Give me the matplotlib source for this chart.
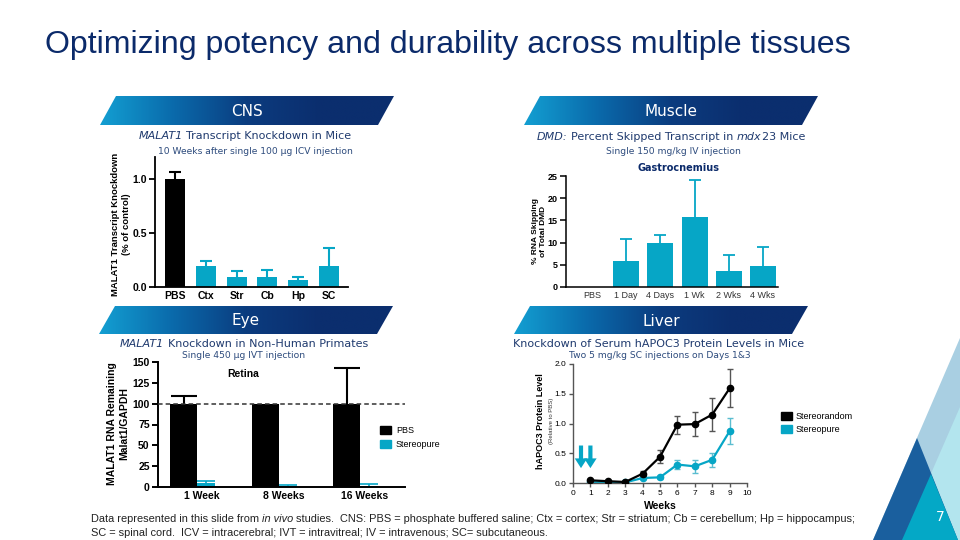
import numpy as np
import matplotlib
matplotlib.use('Agg')
import matplotlib.pyplot as plt
from matplotlib.patches import Polygon, Patch
from matplotlib.colors import LinearSegmentedColormap

plt.rcParams['font.family'] = ['DejaVu Sans']
ARIAL = ['Liberation Sans', 'DejaVu Sans']
NARROW = ['Liberation Sans Narrow', 'Liberation Sans', 'DejaVu Sans']

NAVY = '#0b2a6a'
TITLE_BLUE = '#1f3a6e'
SUB_BLUE = '#2c4a7c'
CYAN = '#06a6c6'

# ---- CNS ----
cns_labels = ['PBS', 'Ctx', 'Str', 'Cb', 'Hp', 'SC']
cns_vals = [1.0, 0.19, 0.095, 0.095, 0.062, 0.19]
cns_err = [0.06, 0.047, 0.055, 0.06, 0.033, 0.17]

# ---- Muscle ----
dmd_labels = ['PBS', '1 Day', '4 Days', '1 Wk', '2 Wks', '4 Wks']
dmd_vals = [0, 5.75, 9.85, 15.8, 3.65, 4.7]
dmd_err = [0, 5.0, 1.85, 8.2, 3.45, 4.25]

# ---- Eye ----
eye_groups = ['1 Week', '8 Weeks', '16 Weeks']
eye_pbs = [100, 100, 100]
eye_pbs_err = [9.5, 0, 42.5]
eye_stereo = [4.8, 1.6, 1.6]
eye_stereo_err = [2.0, 1.2, 2.4]

# ---- Liver ----
weeks = [1, 2, 3, 4, 5, 6, 7, 8, 9]
rand_vals = [0.045, 0.03, 0.017, 0.157, 0.44, 0.98, 0.99, 1.15, 1.59]
rand_err = [0.01, 0.01, 0.01, 0.045, 0.11, 0.15, 0.2, 0.28, 0.32]
pure_vals = [0.01, 0.01, 0.01, 0.084, 0.095, 0.31, 0.28, 0.39, 0.87]
pure_err = [0, 0, 0, 0.02, 0.02, 0.07, 0.11, 0.12, 0.22]
dose_weeks = [0.46, 1.0]

W, H = 960, 540
fig = plt.figure(figsize=(W / 100, H / 100), dpi=100)
bg = fig.add_axes([0, 0, 1, 1], zorder=0)
bg.set_xlim(0, W)
bg.set_ylim(H, 0)
bg.set_autoscale_on(False)
bg.axis('off')
renderer = fig.canvas.get_renderer()


def px_axes(left, top, right, bottom):
    ax = fig.add_axes([left / W, 1 - bottom / H, (right - left) / W, (bottom - top) / H], zorder=2)
    ax.set_facecolor('none')
    ax.spines['top'].set_visible(False)
    ax.spines['right'].set_visible(False)
    return ax


def prism(ax, fs, bold_x=True, bold_y=True, lw=1.3, col='black'):
    for s in ['left', 'bottom']:
        ax.spines[s].set_linewidth(lw)
        ax.spines[s].set_color(col)
    ax.tick_params(axis='y', length=4, width=lw, color=col, pad=2)
    ax.tick_params(axis='x', length=0, pad=3)
    for lab in ax.get_xticklabels():
        lab.set_family(ARIAL)
        lab.set_fontsize(fs)
        lab.set_fontweight('bold' if bold_x else 'normal')
    for lab in ax.get_yticklabels():
        lab.set_family(ARIAL)
        lab.set_fontsize(fs)
        lab.set_fontweight('bold' if bold_y else 'normal')


def up_err(ax, x, v, e, color, cap, lw):
    # one-sided (upper) error bar, like Prism draws on bar charts
    eb = ax.errorbar(x, v, yerr=[[0], [e]], color=color, capsize=cap, elinewidth=lw, capthick=lw, zorder=1)
    eb[1][0].set_visible(False)


def text_width(s, **kw):
    t = bg.text(0, 0, '|' + s + '|', **kw)
    t2 = bg.text(0, 0, '||', **kw)
    w = t.get_window_extent(renderer).width - t2.get_window_extent(renderer).width
    t.remove()
    t2.remove()
    return w


def rich_text(x, y, parts, ha='center', **kw):
    widths = [text_width(s, style=st, **kw) for s, st in parts]
    x0 = x - sum(widths) / 2 if ha == 'center' else x
    for (s, st), w in zip(parts, widths):
        body = s.lstrip(' ')
        lead = s[:len(s) - len(body)]
        off = text_width(lead, style=st, **kw) if lead else 0
        bg.text(x0 + off, y, body, style=st, ha='left', va='center', **kw)
        x0 += w


# ---- title ----
title = 'Optimizing potency and durability across multiple tissues'
tw = text_width(title, family=NARROW, fontsize=24)
bg.text(45, 45, title, family=NARROW, fontsize=24 * 805 / tw, color=NAVY, ha='left', va='center')

# ---- banners ----
banner_cmap = LinearSegmentedColormap.from_list(
    'ban', ['#139fd2', '#0a6aab', '#0b3c7f', '#0b2e6e', '#0b2e6e'])


def banner(xb, yt, yb, label, w=294, slant=16):
    pts = [(xb, yb), (xb + slant, yt), (xb + w, yt), (xb + w - slant, yb)]
    poly = Polygon(pts, closed=True, facecolor='none', edgecolor='none', transform=bg.transData)
    bg.add_patch(poly)
    im = bg.imshow(np.linspace(0, 1, 256)[None, :], extent=(xb, xb + w, yb, yt),
                   cmap=banner_cmap, aspect='auto', interpolation='bilinear', zorder=1)
    im.set_clip_path(poly)
    bg.text(xb + w / 2, (yt + yb) / 2 + 1, label, color='white', ha='center', va='center', fontsize=11)


banner(100, 96, 125, 'CNS')
banner(524, 96, 125, 'Muscle')
banner(99, 306, 334, 'Eye')
banner(514, 306, 334, 'Liver')

# ---- decorative triangles ----
bg.add_patch(Polygon([(960, 338), (873, 540), (960, 540)], color='#a9cfe2', lw=0))
bg.add_patch(Polygon([(960, 407), (902, 540), (960, 540)], color='#b3e5ee', lw=0))
bg.add_patch(Polygon([(917, 438), (873, 540), (958, 540)], color='#1a5f9e', lw=0))
bg.add_patch(Polygon([(931, 474), (902, 540), (958, 540)], color='#04a8c6', lw=0))
bg.text(940, 517, '7', color='white', fontsize=10, ha='center', va='center')

# ---- CNS chart ----
rich_text(245, 136, [('MALAT1', 'italic'), (' Transcript Knockdown in Mice', 'normal')],
          fontsize=8, color=TITLE_BLUE)
bg.text(255, 151, '10 Weeks after single 100 µg ICV injection', fontsize=6.6, color=SUB_BLUE,
        ha='center', va='center')
ax1 = px_axes(155, 157, 348, 287)
xc = np.arange(len(cns_labels))
cns_colors = ['black'] + [CYAN] * (len(cns_labels) - 1)
ax1.bar(xc, cns_vals, width=0.65, color=cns_colors, zorder=2)
for xi, v, e, c in zip(xc, cns_vals, cns_err, cns_colors):
    up_err(ax1, xi, v, e, c, 4.5, 1.5)
ax1.set_xlim(-0.65, 5.62)
ax1.set_ylim(0, 1.2)
ax1.set_yticks([0, 0.5, 1.0])
ax1.set_yticklabels(['0.0', '0.5', '1.0'])
ax1.set_xticks(xc)
ax1.set_xticklabels(cns_labels)
prism(ax1, 7.5)
ax1.set_ylabel('MALAT1 Transcript Knockdown\n(% of control)', family=ARIAL, fontweight='bold',
               fontsize=6.8, linespacing=1.3)
ax1.yaxis.set_label_coords(131, 224, transform=bg.transData)

# ---- Muscle chart ----
rich_text(671, 137, [('DMD:', 'italic'), (' Percent Skipped Transcript in ', 'normal'),
                     ('mdx', 'italic'), ('23 Mice', 'normal')], fontsize=8, color=TITLE_BLUE)
bg.text(673, 151, 'Single 150 mg/kg IV injection', fontsize=6.6, color=SUB_BLUE, ha='center', va='center')
bg.text(679, 168, 'Gastrocnemius', fontsize=7, fontweight='bold', color=NAVY, ha='center', va='center')
ax2 = px_axes(566, 176, 778, 287)
xd = np.arange(len(dmd_labels))
ax2.bar(xd, dmd_vals, width=0.76, color=CYAN, zorder=2)
for xi, v, e in zip(xd, dmd_vals, dmd_err):
    if e > 0:
        up_err(ax2, xi, v, e, CYAN, 4, 1.3)
ax2.set_xlim(-0.76, 5.44)
ax2.set_ylim(0, 25)
ax2.set_yticks(range(0, 26, 5))
ax2.set_xticks(xd)
ax2.set_xticklabels(dmd_labels)
prism(ax2, 6.5, bold_x=False, lw=1.1)
for lab in ax2.get_xticklabels():
    lab.set_family(NARROW)
    lab.set_color('#333333')
ax2.set_ylabel('% RNA Skipping\nof Total DMD', family=ARIAL, fontweight='bold', fontsize=6,
               linespacing=1.2)
ax2.yaxis.set_label_coords(547, 231, transform=bg.transData)

# ---- Eye chart ----
rich_text(244, 344, [('MALAT1', 'italic'), (' Knockdown in Non-Human Primates', 'normal')],
          fontsize=8, color=TITLE_BLUE)
bg.text(244, 356, 'Single 450 µg IVT injection', fontsize=6.6, color=SUB_BLUE, ha='center', va='center')
ax3 = px_axes(158, 362, 405, 487)
xg = np.arange(len(eye_groups))
ax3.bar(xg - 0.165, eye_pbs, width=0.33, color='black', zorder=2)
ax3.bar(xg + 0.11, eye_stereo, width=0.22, color=CYAN, zorder=2)
for xi, v, e in zip(xg, eye_pbs, eye_pbs_err):
    if e > 0:
        up_err(ax3, xi - 0.165, v, e, 'black', 9.5, 1.5)
for xi, v, e in zip(xg, eye_stereo, eye_stereo_err):
    up_err(ax3, xi + 0.11, v, e, CYAN, 6.5, 1.2)
ax3.axhline(100, color='#333333', lw=1.1, ls=(0, (3, 2)), zorder=3)
ax3.set_xlim(-0.48, 2.55)
ax3.set_ylim(0, 150)
ax3.set_yticks(range(0, 151, 25))
ax3.set_xticks(xg + 0.06)
ax3.set_xticklabels(eye_groups)
prism(ax3, 7.5, lw=1.4)
bg.text(243, 374, 'Retina', fontsize=7.5, fontweight='bold', family=ARIAL, ha='center', va='center')
ax3.set_ylabel('MALAT1 RNA Remaining\nMalat1/GAPDH', family=NARROW, fontweight='bold', fontsize=7.5,
               linespacing=1.3)
ax3.yaxis.set_label_coords(129, 424, transform=bg.transData)
ax3.legend(handles=[Patch(color='black', label='PBS'), Patch(color=CYAN, label='Stereopure')],
           loc='upper left', bbox_to_anchor=(375, 421), bbox_transform=bg.transData, frameon=False,
           handlelength=1.3, handleheight=1.0, handletextpad=0.5, labelspacing=0.6,
           borderpad=0, prop={'family': ARIAL, 'size': 6.5})

# ---- Liver chart ----
bg.text(659, 344, 'Knockdown of Serum hAPOC3 Protein Levels in Mice', fontsize=8, color=TITLE_BLUE,
        ha='center', va='center')
bg.text(660, 356, 'Two 5 mg/kg SC injections on Days 1&3', fontsize=6.6, color=SUB_BLUE,
        ha='center', va='center')
ax4 = px_axes(573, 364, 747, 483)
ax4.errorbar(weeks, pure_vals, yerr=pure_err, fmt='-o', color=CYAN, ecolor='#5bbdd0', ms=4.5, lw=1.6,
             capsize=2.5, elinewidth=1, capthick=1, zorder=2)
ax4.errorbar(weeks, rand_vals, yerr=rand_err, fmt='-o', color='black', ecolor='#555555', ms=4.5, lw=1.6,
             capsize=2.5, elinewidth=1, capthick=1, zorder=3)
for d in dose_weeks:
    ax4.annotate('', xy=(d, 0.25), xytext=(d, 0.63),
                 arrowprops=dict(color=CYAN, width=3, headwidth=9, headlength=7, lw=0))
ax4.set_xlim(0, 10)
ax4.set_ylim(0, 2.0)
ax4.set_xticks(range(0, 11))
ax4.set_yticks([0, 0.5, 1.0, 1.5, 2.0])
ax4.set_yticklabels(['0.0', '0.5', '1.0', '1.5', '2.0'])
prism(ax4, 6, bold_x=False, bold_y=False, lw=1.0, col='#555555')
ax4.tick_params(axis='x', length=3, width=1.0, color='#555555', pad=2)
ax4.tick_params(axis='y', length=3)
ax4.set_xlabel('Weeks', family=ARIAL, fontweight='bold', fontsize=7.5, labelpad=3)
ax4.set_ylabel('hAPOC3 Protein Level', family=ARIAL, fontweight='bold', fontsize=6.5)
ax4.yaxis.set_label_coords(545, 421, transform=bg.transData)
bg.text(552, 421, '(Relative to PBS)', family=ARIAL, fontsize=4.3, rotation=90, color='#333333',
        ha='center', va='center')
ax4.legend(handles=[Patch(color='black', label='Stereorandom'), Patch(color=CYAN, label='Stereopure')],
           loc='upper left', bbox_to_anchor=(776, 407), bbox_transform=bg.transData, frameon=False,
           handlelength=1.3, handleheight=1.0, handletextpad=0.4, labelspacing=0.5,
           borderpad=0, prop={'family': ARIAL, 'size': 6.5})

# ---- footer ----
foot = dict(family=NARROW, fontsize=7.9, color='#222222')
rich_text(91, 519, [('Data represented in this slide from ', 'normal'), ('in vivo', 'italic'),
                    (' studies.  CNS: PBS = phosphate buffered saline; Ctx = cortex; Str = striatum; '
                     'Cb = cerebellum; Hp = hippocampus;', 'normal')], ha='left', **foot)
bg.text(91, 533, 'SC = spinal cord.  ICV = intracerebral; IVT = intravitreal; IV = intravenous; '
        'SC= subcutaneous.', ha='left', va='center', **foot)

fig.savefig('out.png', dpi=100)
